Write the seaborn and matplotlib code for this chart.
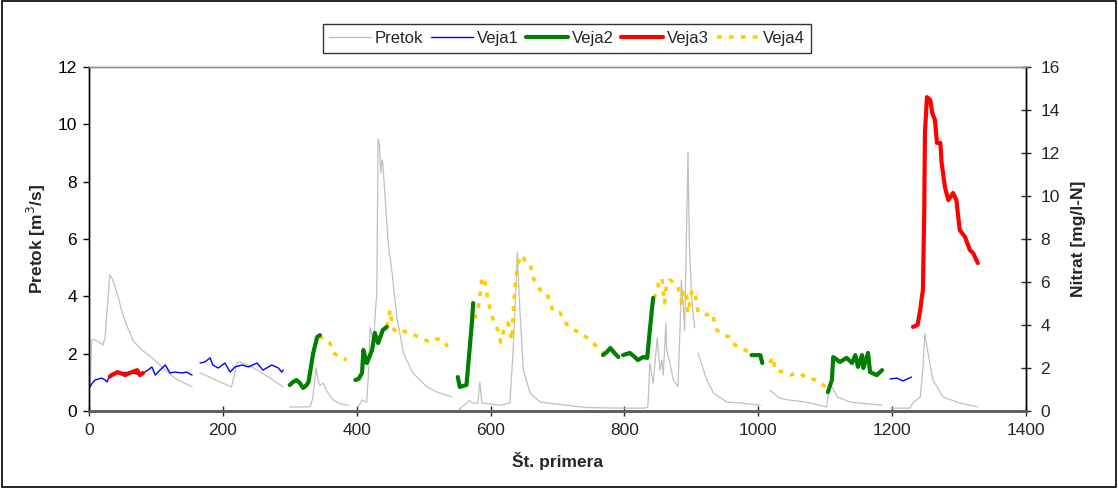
import matplotlib
matplotlib.use("Agg")
import matplotlib.pyplot as plt
from matplotlib.lines import Line2D
from matplotlib.patches import Rectangle
import seaborn as sns
import pandas as pd

# ---------------- data ----------------
pretok_x = [
    [2, 4, 7, 15, 21, 24, 28, 31, 35, 40, 45, 50, 57, 66, 78, 92, 106, 118, 130, 154],
    [166, 199, 213, 221, 226, 244, 268, 290],
    [300, 315, 330, 334, 337, 339, 343, 345, 350, 355, 365, 375, 388],
    [402, 408, 415, 418, 420, 425, 428, 430, 432, 434, 436, 438, 439, 442, 447, 453, 460, 470, 484, 505, 520, 542],
    [552, 569, 572, 581, 584, 587, 614, 629, 634, 640, 644, 649, 659, 674, 714, 744, 793, 830, 835, 838, 843,
     849, 853, 856, 858, 862, 863, 868, 873, 880, 883, 885, 888, 890, 895, 897, 900, 902, 905],
    [910, 923, 933, 953, 973, 1003],
    [1017, 1032, 1047, 1072, 1102, 1104, 1107, 1118, 1137, 1185],
    [1197, 1227, 1231, 1242, 1246, 1249, 1253, 1261, 1276, 1301, 1328],
]
pretok_y = [
    [0.8, 2.48, 2.5, 2.4, 2.3, 2.58, 3.8, 4.75, 4.6, 4.25, 3.85, 3.4, 2.95, 2.45, 2.15, 1.9, 1.6, 1.35, 1.12, 0.84],
    [1.33, 0.98, 0.84, 1.67, 1.71, 1.53, 1.19, 0.84],
    [0.14, 0.14, 0.15, 0.4, 1.0, 1.5, 1.0, 0.9, 0.97, 0.7, 0.38, 0.25, 0.2],
    [0.14, 0.38, 0.31, 1.5, 2.93, 2.37, 3.5, 4.1, 9.5, 9.3, 8.3, 8.76, 8.65, 7.6, 5.86, 4.8, 3.28, 2.0, 1.32, 0.84, 0.66, 0.49],
    [0.03, 0.38, 0.28, 0.28, 1.0, 0.28, 0.2, 0.28, 2.23, 5.55, 3.42, 1.43, 0.63, 0.31, 0.2, 0.12, 0.1, 0.1, 0.14, 1.67, 0.97,
     2.55, 1.43, 1.78, 1.26, 3.07, 2.13, 1.67, 1.08, 0.84, 2.8, 4.57, 3.63, 2.8, 9.03, 5.86, 4.22, 3.52, 2.9],
    [2.02, 1.08, 0.63, 0.31, 0.28, 0.2],
    [0.73, 0.45, 0.38, 0.31, 0.14, 0.5, 0.97, 0.49, 0.31, 0.2],
    [0.1, 0.1, 0.28, 0.49, 1.5, 2.7, 2.1, 1.08, 0.49, 0.28, 0.14],
]

veja1_x = [
    [1.5, 5, 9, 19, 24, 27, 31, 45, 60, 76, 81, 88, 94, 99, 106, 114, 121, 128, 139, 146, 154],
    [166, 173, 181, 185, 193, 203, 211, 218, 229, 238, 251, 260, 273, 283, 288, 290],
    [1197, 1207, 1216, 1229],
]
veja1_y = [
    [1.12, 1.3, 1.44, 1.53, 1.45, 1.35, 1.67, 1.75, 1.8, 1.7, 1.77, 1.9, 2.05, 1.67, 1.9, 2.14, 1.77, 1.81, 1.77, 1.81, 1.67],
    [2.23, 2.28, 2.47, 2.14, 2.0, 2.23, 1.81, 2.05, 2.14, 2.05, 2.23, 1.9, 2.14, 2.0, 1.81, 1.9],
    [1.49, 1.53, 1.4, 1.58],
]

veja2_x = [
    [300, 305, 310, 315, 320, 325, 328, 335, 341, 345],
    [398, 403, 408, 410, 415, 420, 423, 427, 432, 439, 445],
    [551, 554, 564, 569, 572, 574],
    [768, 774, 779, 785, 791],
    [798, 808, 814, 820, 828, 834, 838, 841, 843],
    [990, 1003, 1006],
    [1104, 1110, 1112, 1122, 1132, 1140, 1145, 1149, 1155, 1157, 1164, 1167, 1177, 1185],
]
veja2_y = [
    [1.21, 1.35, 1.44, 1.3, 1.07, 1.2, 1.35, 2.7, 3.44, 3.53],
    [1.44, 1.5, 1.77, 2.84, 2.23, 2.6, 2.84, 3.63, 3.16, 3.77, 3.91],
    [1.58, 1.12, 1.21, 2.98, 4.09, 5.02],
    [2.6, 2.75, 2.93, 2.7, 2.51],
    [2.6, 2.7, 2.55, 2.37, 2.51, 2.47, 3.77, 4.7, 5.26],
    [2.6, 2.6, 2.23],
    [0.88, 1.44, 2.51, 2.28, 2.47, 2.23, 2.6, 2.05, 2.6, 2.0, 2.7, 1.81, 1.67, 1.9],
]

veja3_x = [
    [31, 34, 43, 54, 64, 72, 76, 81],
    [1231, 1238, 1242, 1244, 1246, 1248, 1249, 1252, 1257, 1260, 1264, 1267, 1272, 1274, 1279, 1284, 1291,
     1296, 1301, 1309, 1316, 1321, 1328],
]
veja3_y = [
    [1.6, 1.67, 1.81, 1.67, 1.81, 1.9, 1.67, 1.77],
    [3.91, 4.0, 4.7, 5.2, 5.63, 9.35, 12.93, 14.6, 14.46, 13.86, 13.53, 12.47, 12.47, 11.53, 10.4, 9.81, 10.14,
     9.81, 8.42, 8.09, 7.49, 7.35, 6.88],
]

veja4_x = [
    [345, 350, 355, 360, 365, 375, 385],
    [445, 450, 453, 460, 470, 480, 495, 510, 520, 529, 536],
    [574, 577, 581, 584, 587, 592, 597, 604, 611, 615, 621, 626, 632, 634, 637, 641, 647, 651, 659, 663, 674,
     684, 689, 694, 704, 716, 734, 749, 759, 768],
    [843, 849, 851, 856, 860, 863, 868, 876, 880, 886, 888, 893, 895, 901, 906, 910, 923, 931, 938, 947, 957,
     965, 973, 985, 990],
    [1017, 1022, 1025, 1037, 1047, 1062, 1072, 1088, 1097, 1102, 1104],
]
veja4_y = [
    [3.53, 3.3, 3.25, 3.16, 2.7, 2.51, 2.37],
    [3.91, 4.7, 3.91, 3.63, 3.7, 3.63, 3.4, 3.2, 3.35, 3.3, 2.98],
    [5.02, 4.37, 4.7, 5.3, 6.23, 5.95, 5.02, 4.23, 3.77, 3.2, 3.91, 4.09, 3.3, 4.7, 5.95, 6.88, 7.26, 7.02, 6.88,
     6.23, 5.63, 5.49, 5.02, 4.6, 4.56, 3.91, 3.63, 3.3, 2.98, 2.7],
    [5.26, 5.49, 5.95, 6.19, 5.02, 5.95, 6.09, 5.95, 5.77, 5.02, 5.63, 5.3, 4.56, 5.63, 5.4, 4.6, 4.47, 4.56,
     3.77, 3.53, 3.44, 3.07, 2.98, 2.75, 2.6],
    [2.23, 2.51, 1.9, 1.81, 1.67, 1.77, 1.53, 1.44, 1.21, 1.07, 0.88],
]

series_names = ["Pretok", "Veja1", "Veja2", "Veja3", "Veja4"]
left_ticks = [0, 2, 4, 6, 8, 10, 12]
right_ticks = [0, 2, 4, 6, 8, 10, 12, 14, 16]
x_ticks = [0, 200, 400, 600, 800, 1000, 1200, 1400]


def to_frame(xs, ys):
    rows = []
    for i, (sx, sy) in enumerate(zip(xs, ys)):
        for a, b in zip(sx, sy):
            rows.append({"x": a, "y": b, "seg": i})
    return pd.DataFrame(rows)


# ---------------- style ----------------
sns.set_style("ticks")
plt.rcParams["font.family"] = ["Liberation Sans", "DejaVu Sans"]
plt.rcParams["font.size"] = 12
FS = 12.5

fig = plt.figure(figsize=(11.18, 4.88), dpi=100)
ax = fig.add_axes([0.0796, 0.1578, 0.8381, 0.7049])
ax2 = ax.twinx()

dash4 = (0, (1.3, 2.0))
styles = {
    "Pretok": dict(color="#C0C0C0", lw=0.9),
    "Veja1": dict(color="#0000FF", lw=1.0),
    "Veja2": dict(color="#008000", lw=3.0),
    "Veja3": dict(color="#FF0000", lw=3.0),
    "Veja4": dict(color="#FFCC00", lw=2.6),
}

sns.lineplot(data=to_frame(pretok_x, pretok_y), x="x", y="y", units="seg", estimator=None, sort=False,
             ax=ax, color=styles["Pretok"]["color"], lw=styles["Pretok"]["lw"], legend=False)

for name, xs, ys in [("Veja1", veja1_x, veja1_y), ("Veja4", veja4_x, veja4_y),
                     ("Veja2", veja2_x, veja2_y), ("Veja3", veja3_x, veja3_y)]:
    kw = {}
    if name == "Veja4":
        kw = dict(dashes=False, linestyle=dash4)
    sns.lineplot(data=to_frame(xs, ys), x="x", y="y", units="seg", estimator=None, sort=False,
                 ax=ax2, color=styles[name]["color"], lw=styles[name]["lw"], legend=False, **kw)

ax.set_xlim(0, 1400)
ax.set_ylim(0, 12)
ax2.set_ylim(0, 16)
ax.set_xticks(x_ticks)
ax.set_yticks(left_ticks)
ax2.set_yticks(right_ticks)

ax.set_xlabel("Št. primera", fontweight="bold", fontsize=FS, labelpad=10)
ax.set_ylabel("Pretok [m$^3$/s]", fontweight="bold", fontsize=FS, labelpad=7)
ax2.set_ylabel("Nitrat [mg/l-N]", fontweight="bold", fontsize=FS, labelpad=8)

ax.tick_params(axis="y", direction="out", length=4.3, width=1, labelsize=FS, colors="black", pad=4.5)
ax.tick_params(axis="x", direction="inout", length=7, width=1, labelsize=FS, pad=5)
ax2.tick_params(axis="y", direction="inout", length=7.5, width=1, labelsize=FS, pad=6.5)

for a in (ax, ax2):
    a.spines["top"].set_visible(True)
    a.spines["top"].set_color("#909090")
    a.spines["top"].set_linewidth(1)
    a.spines["bottom"].set_color("#606060")
    a.spines["bottom"].set_linewidth(2)
    a.spines["left"].set_color("black")
    a.spines["right"].set_color("black")
    a.spines["right"].set_visible(True)
    a.spines["left"].set_linewidth(1)
    a.spines["right"].set_linewidth(1)

# legend
handles = [
    Line2D([], [], color=styles["Pretok"]["color"], lw=1.0),
    Line2D([], [], color=styles["Veja1"]["color"], lw=1.0),
    Line2D([], [], color=styles["Veja2"]["color"], lw=3.0),
    Line2D([], [], color=styles["Veja3"]["color"], lw=3.0),
    Line2D([], [], color=styles["Veja4"]["color"], lw=2.6, linestyle=dash4),
]
leg = fig.legend(handles, series_names, loc="center", bbox_to_anchor=(0.507, 0.921), ncol=5,
                 frameon=True, fancybox=False, shadow=False, fontsize=12, handlelength=2.5,
                 handletextpad=0.25, columnspacing=0.45, borderpad=0.4, borderaxespad=0,
                 edgecolor="black")
leg.get_frame().set_linewidth(1)

fig.patches.append(Rectangle((0.002, 0.003), 0.996, 0.994, transform=fig.transFigure,
                             fill=False, edgecolor="black", lw=1.2))

fig.savefig("out.png", dpi=100)
